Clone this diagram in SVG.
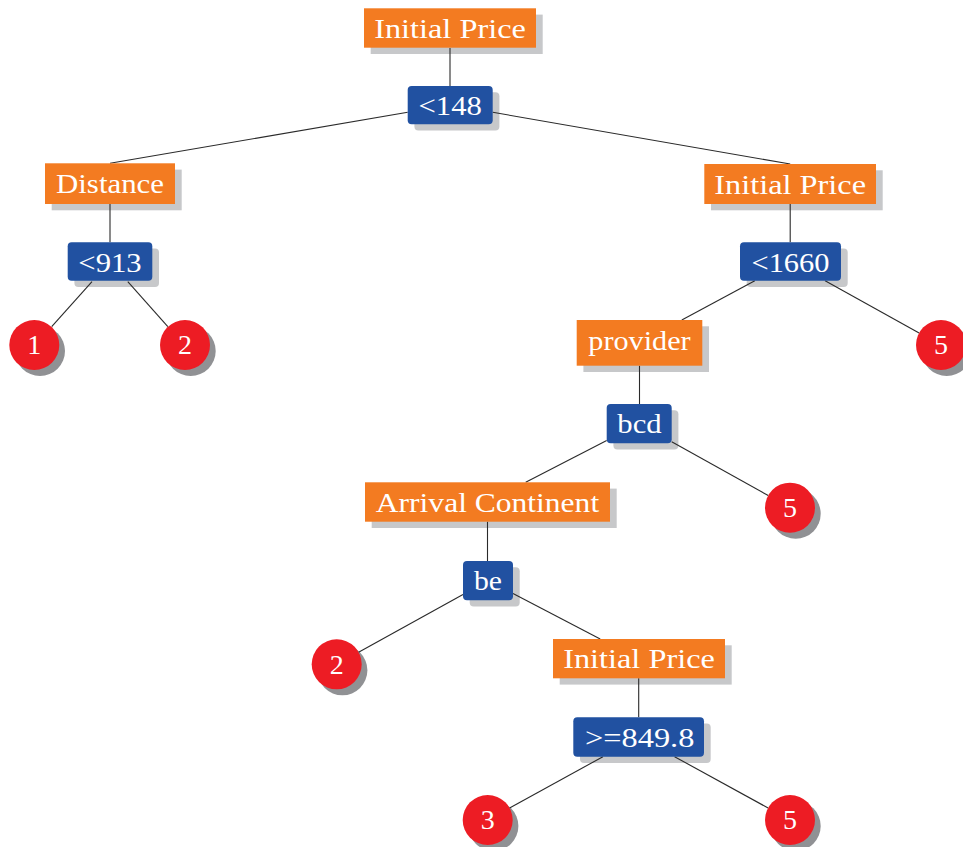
<svg xmlns="http://www.w3.org/2000/svg" width="963" height="847" viewBox="0 0 963 847">
  <style>
    .edge { stroke: #2a2a2a; stroke-width: 1.1; fill: none; }
    .attr { fill: #F37B21; }
    .test { fill: #2151A1; }
    .leaf { fill: #ED1C24; }
    .bshadow { fill: #C7C8CA; }
    .cshadow { fill: #909194; }
    .lbl { font-family: "Liberation Serif", "DejaVu Serif", "Times New Roman", serif; font-size: 28px; fill: #ffffff; text-anchor: middle; }
  </style>

  <!-- drop shadows, painted first so connectors run over them -->
  <g id="shadows">
    <rect class="bshadow" x="370.7" y="14.6" width="172" height="39.4"/>
    <rect class="bshadow" x="51.7" y="169.6" width="130" height="40.7"/>
    <rect class="bshadow" x="711" y="170.3" width="171.7" height="40"/>
    <rect class="bshadow" x="583.4" y="326.3" width="125.6" height="45.7"/>
    <rect class="bshadow" x="371.7" y="488.6" width="245" height="39.4"/>
    <rect class="bshadow" x="559.7" y="645.3" width="172" height="39.3"/>
    <rect class="bshadow" x="414.4" y="92.3" width="85" height="38.3" rx="4"/>
    <rect class="bshadow" x="74.4" y="248.6" width="84.6" height="38.4" rx="4"/>
    <rect class="bshadow" x="746.7" y="248.6" width="101" height="38.4" rx="4"/>
    <rect class="bshadow" x="613.4" y="410.3" width="65" height="39.3" rx="4"/>
    <rect class="bshadow" x="469.7" y="567.3" width="50" height="39.3" rx="4"/>
    <rect class="bshadow" x="580" y="723.6" width="130.7" height="39.4" rx="4"/>
    <circle class="cshadow" cx="40" cy="351" r="25"/>
    <circle class="cshadow" cx="190.7" cy="351" r="25"/>
    <circle class="cshadow" cx="946.7" cy="351" r="25"/>
    <circle class="cshadow" cx="795.7" cy="513.7" r="25"/>
    <circle class="cshadow" cx="342.4" cy="670.3" r="25"/>
    <circle class="cshadow" cx="493.4" cy="826" r="25"/>
    <circle class="cshadow" cx="795.7" cy="826" r="25"/>
  </g>

  <!-- connectors -->
  <g id="edges">
    <line class="edge" x1="450" y1="48" x2="450" y2="86"/>
    <line class="edge" x1="407.7" y1="112.3" x2="110" y2="163.3"/>
    <line class="edge" x1="492.7" y1="112.3" x2="790.2" y2="164"/>
    <line class="edge" x1="110" y1="204" x2="110" y2="242.3"/>
    <line class="edge" x1="92" y1="281.7" x2="51.7" y2="326.7"/>
    <line class="edge" x1="127.8" y1="281.7" x2="167.8" y2="326.7"/>
    <line class="edge" x1="790.2" y1="204" x2="790.2" y2="242.3"/>
    <line class="edge" x1="754.8" y1="280.7" x2="681.8" y2="320"/>
    <line class="edge" x1="825.1" y1="280.7" x2="919.1" y2="332.9"/>
    <line class="edge" x1="639.5" y1="365.7" x2="639.5" y2="404"/>
    <line class="edge" x1="606.7" y1="440.4" x2="525.7" y2="482.3"/>
    <line class="edge" x1="671.7" y1="441.8" x2="768.2" y2="495.5"/>
    <line class="edge" x1="487.5" y1="521.7" x2="487.5" y2="561"/>
    <line class="edge" x1="463" y1="594.4" x2="358.6" y2="652.2"/>
    <line class="edge" x1="513" y1="593.5" x2="600.2" y2="639"/>
    <line class="edge" x1="638.7" y1="678.3" x2="638.7" y2="717.3"/>
    <line class="edge" x1="602.9" y1="756.7" x2="509.6" y2="808"/>
    <line class="edge" x1="674.6" y1="756.7" x2="768.1" y2="808"/>
  </g>

  <!-- attribute nodes (orange) -->
  <g id="n-initial-price-root">
    <rect class="attr" x="364" y="8.3" width="172" height="39.4"/>
    <text class="lbl" x="450" y="37.7" textLength="151.7" lengthAdjust="spacingAndGlyphs">Initial Price</text>
  </g>
  <g id="n-distance">
    <rect class="attr" x="45" y="163.3" width="130" height="40.7"/>
    <text class="lbl" x="110" y="193.3" textLength="108" lengthAdjust="spacingAndGlyphs">Distance</text>
  </g>
  <g id="n-initial-price-right">
    <rect class="attr" x="704.3" y="164" width="171.7" height="40"/>
    <text class="lbl" x="790.2" y="193.5" textLength="151.7" lengthAdjust="spacingAndGlyphs">Initial Price</text>
  </g>
  <g id="n-provider">
    <rect class="attr" x="576.7" y="320" width="125.6" height="45.7"/>
    <text class="lbl" x="639.5" y="349.5" textLength="102.3" lengthAdjust="spacingAndGlyphs">provider</text>
  </g>
  <g id="n-arrival-continent">
    <rect class="attr" x="365" y="482.3" width="245" height="39.4"/>
    <text class="lbl" x="487.5" y="511.7" textLength="223.3" lengthAdjust="spacingAndGlyphs">Arrival Continent</text>
  </g>
  <g id="n-initial-price-low">
    <rect class="attr" x="553" y="639" width="172" height="39.3"/>
    <text class="lbl" x="639" y="668.4" textLength="151.7" lengthAdjust="spacingAndGlyphs">Initial Price</text>
  </g>

  <!-- split tests (blue) -->
  <g id="t-lt148">
    <rect class="test" x="407.7" y="86" width="85" height="38.3" rx="4"/>
    <text class="lbl" x="450.2" y="114.6" textLength="63.3" lengthAdjust="spacingAndGlyphs">&lt;148</text>
  </g>
  <g id="t-lt913">
    <rect class="test" x="67.7" y="242.3" width="84.6" height="38.4" rx="4"/>
    <text class="lbl" x="110" y="271.7" textLength="63.3" lengthAdjust="spacingAndGlyphs">&lt;913</text>
  </g>
  <g id="t-lt1660">
    <rect class="test" x="740" y="242.3" width="101" height="38.4" rx="4"/>
    <text class="lbl" x="790.5" y="271.7" textLength="78" lengthAdjust="spacingAndGlyphs">&lt;1660</text>
  </g>
  <g id="t-bcd">
    <rect class="test" x="606.7" y="404" width="65" height="39.3" rx="4"/>
    <text class="lbl" x="639.5" y="433.4" textLength="44.3" lengthAdjust="spacingAndGlyphs">bcd</text>
  </g>
  <g id="t-be">
    <rect class="test" x="463" y="561" width="50" height="39.3" rx="4"/>
    <text class="lbl" x="488" y="590.4" textLength="28" lengthAdjust="spacingAndGlyphs">be</text>
  </g>
  <g id="t-ge849">
    <rect class="test" x="573.3" y="717.3" width="130.7" height="39.4" rx="4"/>
    <text class="lbl" x="639.7" y="746.7" textLength="109.3" lengthAdjust="spacingAndGlyphs">&gt;=849.8</text>
  </g>

  <!-- leaves (red circles) -->
  <g id="leaf-1">
    <circle class="leaf" cx="34.3" cy="345" r="25"/>
    <text class="lbl" x="34.3" y="354.3">1</text>
  </g>
  <g id="leaf-2a">
    <circle class="leaf" cx="185" cy="345" r="25"/>
    <text class="lbl" x="185" y="354.3">2</text>
  </g>
  <g id="leaf-5a">
    <circle class="leaf" cx="941" cy="345" r="25"/>
    <text class="lbl" x="941" y="354.3">5</text>
  </g>
  <g id="leaf-5b">
    <circle class="leaf" cx="790" cy="507.7" r="25"/>
    <text class="lbl" x="790" y="517">5</text>
  </g>
  <g id="leaf-2b">
    <circle class="leaf" cx="336.7" cy="664.3" r="25"/>
    <text class="lbl" x="336.7" y="673.6">2</text>
  </g>
  <g id="leaf-3">
    <circle class="leaf" cx="487.7" cy="820" r="25"/>
    <text class="lbl" x="487.7" y="829.3">3</text>
  </g>
  <g id="leaf-5c">
    <circle class="leaf" cx="790" cy="820" r="25"/>
    <text class="lbl" x="790" y="829.3">5</text>
  </g>
</svg>
